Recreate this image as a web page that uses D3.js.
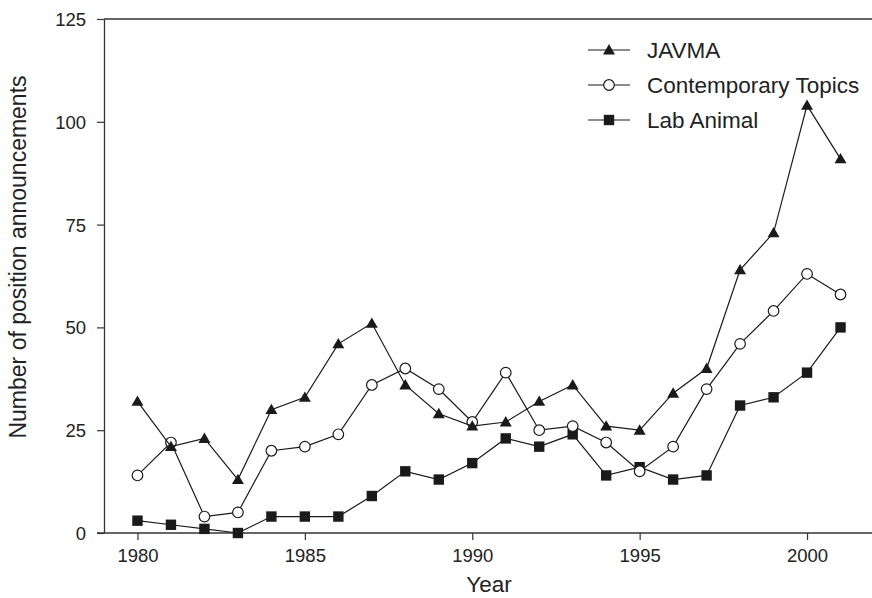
<!DOCTYPE html>
<html>
<head>
<meta charset="utf-8">
<script src="https://cdn.jsdelivr.net/npm/d3@7"></script>
<style>
  html, body { margin: 0; padding: 0; background: #fff; }
  svg { display: block; font-family: "Liberation Sans", Arial, Helvetica, sans-serif; }
</style>
</head>
<body>
<svg id="chart" width="872" height="598"></svg>
<script>
const years = [1980,1981,1982,1983,1984,1985,1986,1987,1988,1989,1990,1991,1992,1993,1994,1995,1996,1997,1998,1999,2000,2001];
const javma = [32,21,23,13,30,33,46,51,36,29,26,27,32,36,26,25,34,40,64,73,104,91];
const contemporaryTopics = [14,22,4,5,20,21,24,36,40,35,27,39,25,26,22,15,21,35,46,54,63,58];
const labAnimal = [3,2,1,0,4,4,4,9,15,13,17,23,21,24,14,16,13,14,31,33,39,50];
const xTicks = [1980,1985,1990,1995,2000];
const yTicks = [0,25,50,75,100,125];
const seriesNames = ["JAVMA","Contemporary Topics","Lab Animal"];
const xLabel = "Year";
const yLabel = "Number of position announcements";

const svg = d3.select("#chart");
const x = d3.scaleLinear().domain([1979, 2002]).range([104, 874]);
const y = d3.scaleLinear().domain([0, 125]).range([533, 19]);
const ink = "#1a1a1a";
const axisColor = "#333";

// top frame line
svg.append("line").attr("x1", 104).attr("x2", 872).attr("y1", y(125)).attr("y2", y(125))
  .attr("stroke", axisColor).attr("stroke-width", 1.3);

// x axis
const xAxis = svg.append("g").attr("transform", `translate(0,${y(0)})`)
  .call(d3.axisBottom(x).tickValues(xTicks).tickFormat(d3.format("d")).tickSize(7).tickSizeOuter(0));
xAxis.select(".domain").attr("d", `M97,0H872`).attr("stroke", axisColor).attr("stroke-width", 1.3);
xAxis.selectAll(".tick line").attr("stroke", axisColor).attr("stroke-width", 1.2);
xAxis.selectAll(".tick text").attr("font-size", 18.5).attr("fill", "#222").attr("dy", null).attr("y", 29)
  .attr("font-family", "Liberation Sans, Arial, sans-serif");

// y axis
const yAxis = svg.append("g").attr("transform", `translate(104,0)`)
  .call(d3.axisLeft(y).tickValues(yTicks).tickSize(7).tickSizeOuter(0));
yAxis.select(".domain").attr("stroke", axisColor).attr("stroke-width", 1.3);
yAxis.selectAll(".tick line").attr("stroke", axisColor).attr("stroke-width", 1.2);
yAxis.selectAll(".tick text").attr("font-size", 18.5).attr("fill", "#222").attr("x", -18).attr("dy", "0.35em")
  .attr("font-family", "Liberation Sans, Arial, sans-serif");

// axis titles
svg.append("text").attr("x", 489).attr("y", 592).attr("text-anchor", "middle")
  .attr("font-size", 22.5).attr("fill", "#222").text(xLabel);
svg.append("text").attr("transform", "translate(26,257) rotate(-90)").attr("text-anchor", "middle")
  .attr("font-size", 23).attr("fill", "#222").text(yLabel);

// symbols
function drawSymbol(g, kind, cx, cy) {
  if (kind === 0) {
    g.append("path").attr("d", d3.symbol(d3.symbolTriangle, 62)())
      .attr("transform", `translate(${cx},${cy + 1})`).attr("fill", ink);
  } else if (kind === 1) {
    g.append("circle").attr("cx", cx).attr("cy", cy).attr("r", 5.3)
      .attr("fill", "#fff").attr("stroke", ink).attr("stroke-width", 1.2);
  } else {
    g.append("rect").attr("x", cx - 5.2).attr("y", cy - 5.2).attr("width", 10.4).attr("height", 10.4)
      .attr("fill", ink);
  }
}

const allSeries = [javma, contemporaryTopics, labAnimal];
const line = d3.line().x((d, i) => x(years[i])).y(d => y(d));
// draw in order: lab animal, contemporary, javma
[2, 1, 0].forEach(k => {
  const g = svg.append("g");
  g.append("path").attr("d", line(allSeries[k])).attr("fill", "none")
    .attr("stroke", ink).attr("stroke-width", 1.2);
  allSeries[k].forEach((v, i) => drawSymbol(g, k, x(years[i]), y(v)));
});

// legend
const legendBase = [58, 93, 128];
seriesNames.forEach((name, k) => {
  const g = svg.append("g");
  const cy = legendBase[k] - 8;
  g.append("line").attr("x1", 588).attr("x2", 630).attr("y1", cy).attr("y2", cy)
    .attr("stroke", ink).attr("stroke-width", 1.2);
  drawSymbol(g, k, 609, cy);
  g.append("text").attr("x", 647).attr("y", legendBase[k]).attr("font-size", 22.5)
    .attr("fill", "#222").text(name);
});
</script>
</body>
</html>
